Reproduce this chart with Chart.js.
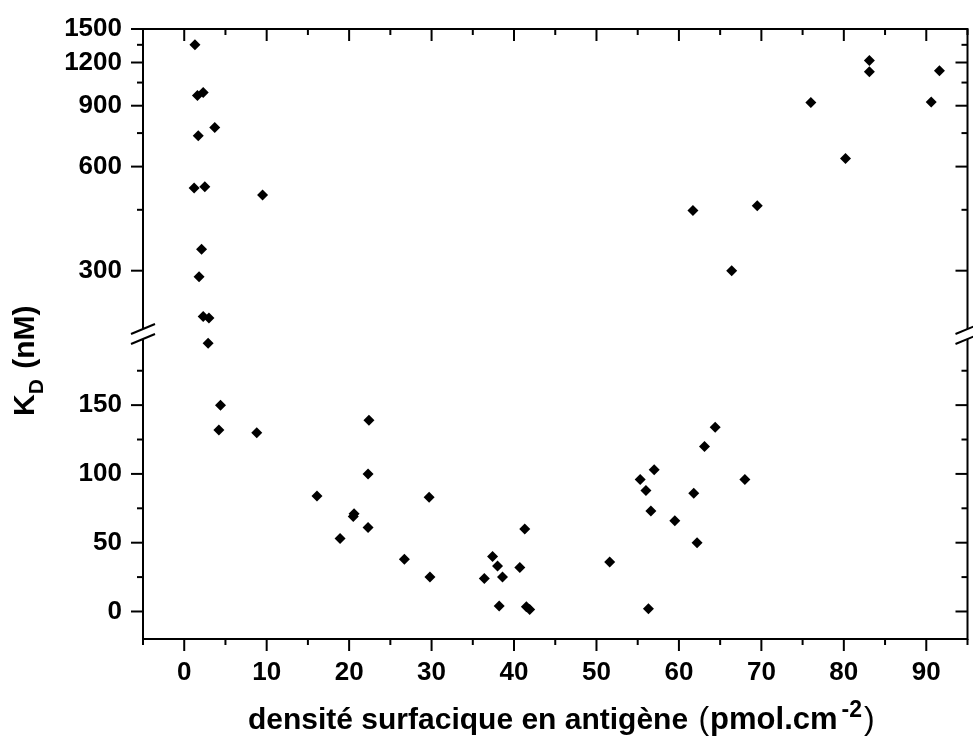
<!DOCTYPE html>
<html>
<head>
<meta charset="utf-8">
<script src="https://cdn.jsdelivr.net/npm/chart.js@4.4.1/dist/chart.umd.min.js"></script>
<style>
    body { margin: 0; background: #fff; }
    #wrap { width: 973px; height: 738px; }
</style>
</head>
<body>
<div id="wrap"><canvas id="kdChart"></canvas></div>
<script>
// Data
const densite = [1.3, 1.6, 2.3, 1.7, 3.7, 1.2, 2.5, 9.5, 2.1, 1.8, 2.3, 3.0,
    61.7, 69.5, 66.4, 76.0, 80.2, 83.1, 83.1, 90.6, 91.6,
    2.9, 4.4, 4.2, 8.8, 16.1, 18.9, 20.6, 20.5, 22.3, 22.3, 22.4, 26.7, 29.7, 29.8,
    36.4, 37.4, 38.0, 38.2, 38.6, 40.7, 41.3, 41.5, 41.9, 51.6, 55.3, 56.0, 56.3,
    56.6, 57.0, 59.5, 61.8, 62.2, 63.1, 64.4, 68.0];
const kd = [1350, 963, 983, 737, 778, 520, 525, 497, 346, 288, 221, 219,
    448, 462, 300, 920, 633, 1217, 1128, 922, 1136,
    195, 150, 132, 130, 84, 53, 71, 69, 61, 100, 139, 38, 83, 25,
    24, 40, 33, 4, 25, 32, 60, 3.5, 1.5, 36, 96, 88, 2,
    73, 103, 66, 86, 50, 120, 134, 96];

// Axis settings
const breakValue = 200;
const xTicks = [0, 10, 20, 30, 40, 50, 60, 70, 80, 90];
const xMinorTicks = [-5, 5, 15, 25, 35, 45, 55, 65, 75, 85, 95];
const lowTicks = [0, 50, 100, 150];
const lowMinorTicks = [25, 75, 125, 175];
const highTicks = [300, 600, 900, 1200, 1500];
const highMinorTicks = [450, 750, 1050, 1350];

// Split points between the two parts of the broken axis
const lowPoints = [];
const highPoints = [];
densite.forEach((x, i) => {
    const p = { x: x, y: kd[i] };
    if (kd[i] < breakValue) lowPoints.push(p); else highPoints.push(p);
});

const FONT = "'Liberation Sans', Arial, sans-serif";
const tickFont = { family: FONT, size: 26, weight: 'bold' };

// Frame, ticks and axis break
const framePlugin = {
    id: 'frame',
    afterDatasetsDraw(chart) {
        const { ctx, chartArea: a, scales } = chart;
        const line = (x1, y1, x2, y2) => {
            ctx.beginPath();
            ctx.moveTo(x1, y1);
            ctx.lineTo(x2, y2);
            ctx.stroke();
        };
        ctx.save();
        ctx.strokeStyle = '#000';
        ctx.lineWidth = 2;
        ctx.strokeRect(a.left, a.top, a.right - a.left, a.bottom - a.top);

        xTicks.forEach(v => {
            const px = scales.x.getPixelForValue(v);
            line(px, a.bottom, px, a.bottom + 12);
            line(px, a.top, px, a.top + 12);
        });
        xMinorTicks.forEach(v => {
            const px = scales.x.getPixelForValue(v);
            line(px, a.bottom, px, a.bottom + 6);
            line(px, a.top, px, a.top + 6);
        });
        [[scales.yLow, lowTicks, lowMinorTicks], [scales.yHigh, highTicks, highMinorTicks]].forEach(([s, major, minor]) => {
            major.forEach(v => {
                const py = s.getPixelForValue(v);
                line(a.left - 12, py, a.left, py);
                line(a.right - 12, py, a.right, py);
            });
            minor.forEach(v => {
                const py = s.getPixelForValue(v);
                line(a.left - 6, py, a.left, py);
                line(a.right - 6, py, a.right, py);
            });
        });

        // axis break marks
        const yb = scales.yHigh.bottom;
        [a.left, a.right].forEach(x0 => {
            ctx.fillStyle = '#fff';
            ctx.fillRect(x0 - 3, yb - 5, 6, 10);
            line(x0 - 12, yb, x0 + 12, yb - 10);
            line(x0 - 12, yb + 10, x0 + 12, yb);
        });
        ctx.restore();
    }
};

// Axis titles (subscript / superscript)
const titlePlugin = {
    id: 'titles',
    afterDraw(chart) {
        const ctx = chart.ctx;
        ctx.save();
        ctx.fillStyle = '#000';
        ctx.textBaseline = 'alphabetic';
        ctx.textAlign = 'left';

        // x title
        const parts = [
            ['densité surfacique en antigène ', 'bold 30px ' + FONT, 0, 2],
            ['(', '32px ' + FONT, 0, 1],
            ['pmol.cm', 'bold 31px ' + FONT, 0, 4],
            ['-2', 'bold 23px ' + FONT, -12, 2],
            [')', '32px ' + FONT, 0, 0]
        ];
        let x = 248;
        parts.forEach(([t, f, dy, gap]) => {
            ctx.font = f;
            ctx.fillText(t, x, 729 + dy);
            x += ctx.measureText(t).width + gap;
        });

        // y title
        ctx.translate(34, 416);
        ctx.rotate(-Math.PI / 2);
        let y = 0;
        ctx.font = 'bold 30px ' + FONT;
        ctx.fillText('K', y, 0);
        y += ctx.measureText('K').width;
        ctx.font = 'bold 21px ' + FONT;
        ctx.fillText('D', y, 9);
        y += ctx.measureText('D').width + 2;
        ctx.font = 'bold 30px ' + FONT;
        ctx.fillText(' (nM)', y, 0);
        ctx.restore();
    }
};

const yCommon = {
    position: 'left',
    stack: 'kd',
    stackWeight: 1,
    grid: { display: false, drawTicks: false },
    border: { display: false },
    afterFit: s => {
        s.width = 143;
        s.paddingTop = 0;
        s.paddingBottom = 0;
    }
};

new Chart(document.getElementById('kdChart'), {
    type: 'scatter',
    data: {
        datasets: [
            { data: lowPoints, yAxisID: 'yLow' },
            { data: highPoints, yAxisID: 'yHigh' }
        ]
    },
    options: {
        responsive: true,
        maintainAspectRatio: false,
        animation: false,
        layout: { padding: { top: 29, right: 5, left: 0, bottom: 0 } },
        elements: {
            point: {
                pointStyle: 'rectRot',
                radius: 5.5,
                hoverRadius: 5.5,
                backgroundColor: '#000',
                borderWidth: 0
            }
        },
        plugins: {
            legend: { display: false },
            tooltip: { enabled: false }
        },
        scales: {
            x: {
                type: 'linear',
                min: -5,
                max: 95,
                grid: { display: false, drawTicks: false },
                border: { display: false },
                afterBuildTicks: s => { s.ticks = xTicks.map(v => ({ value: v })); },
                afterFit: s => { s.height = 99; },
                ticks: {
                    font: tickFont,
                    color: '#000',
                    padding: 18,
                    maxRotation: 0,
                    autoSkip: false,
                    callback: v => String(v)
                }
            },
            yLow: Object.assign({}, yCommon, {
                type: 'linear',
                weight: 0,
                min: -20,
                max: 201.7,
                afterBuildTicks: s => { s.ticks = lowTicks.map(v => ({ value: v })); },
                ticks: { font: tickFont, color: '#000', padding: 21, autoSkip: false, callback: v => String(v) }
            }),
            yHigh: Object.assign({}, yCommon, {
                type: 'logarithmic',
                weight: 1,
                min: 196.8,
                max: 1500,
                afterBuildTicks: s => { s.ticks = highTicks.map(v => ({ value: v })); },
                ticks: { font: tickFont, color: '#000', padding: 21, autoSkip: false, callback: v => String(v) }
            })
        }
    },
    plugins: [framePlugin, titlePlugin]
});
</script>
</body>
</html>
